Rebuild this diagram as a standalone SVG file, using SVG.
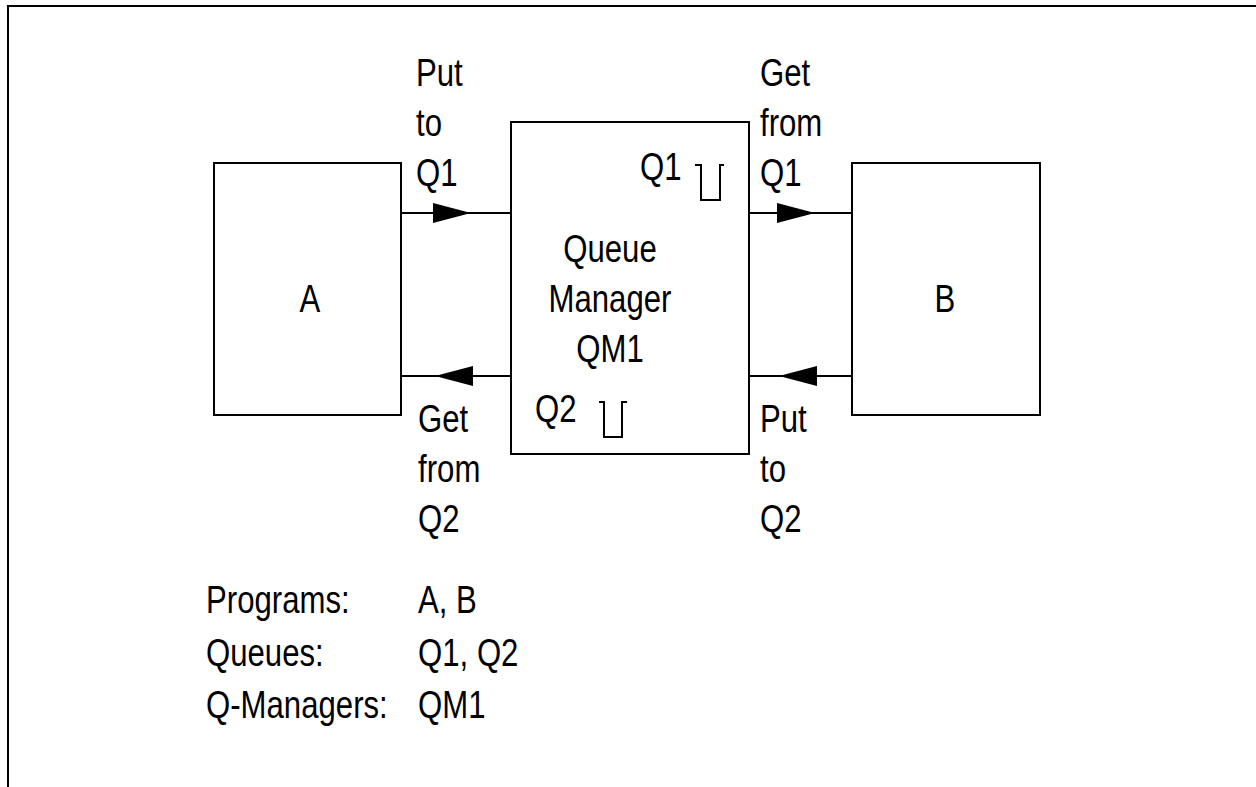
<svg xmlns="http://www.w3.org/2000/svg" width="1256" height="787" viewBox="0 0 1256 787">
<style>
text{font-family:"Liberation Sans",Arial,sans-serif;font-size:38px;fill:#000;transform:scale(0.82,1)}
.c{text-anchor:middle}
.box{fill:#fff;stroke:#000;stroke-width:2}
.ln{stroke:#000;stroke-width:2;fill:none}
</style>
<defs>
<marker id="ah" viewBox="0 0 38 20" refX="38" refY="10" markerWidth="38" markerHeight="20" markerUnits="userSpaceOnUse" orient="auto">
<path d="M0,0 L38,10 L0,20 Z" fill="#000"/>
</marker>
</defs>
<rect width="1256" height="787" fill="#fff"/>
<path class="ln" d="M8,787 V6 H1256" stroke-width="2.5"/>
<g id="A"><rect class="box" x="214" y="163" width="187" height="252"/><text class="c" x="378" y="312">A</text></g>
<g id="QM1"><rect class="box" x="511" y="122" width="238" height="332"/>
<text class="c" x="743.9" y="262">Queue</text><text class="c" x="743.9" y="312">Manager</text><text class="c" x="743.9" y="362">QM1</text>
<g id="Q1"><text x="780.5" y="180">Q1</text><path class="ln" d="M695,165 H701 V200 H720 V165 H724"/></g>
<g id="Q2"><text x="652.4" y="422">Q2</text><path class="ln" d="M599,402 H604 V437 H622 V402 H627"/></g>
</g>
<g id="B"><rect class="box" x="852" y="163" width="188" height="252"/><text class="c" x="1152.4" y="312">B</text></g>
<g id="connectors">
<path class="ln" d="M401,213 H511"/><path class="ln" d="M401,213 H471" marker-end="url(#ah)"/>
<path class="ln" d="M749,213 H852"/><path class="ln" d="M749,213 H815" marker-end="url(#ah)"/>
<path class="ln" d="M511,376 H401"/><path class="ln" d="M511,376 H435" marker-end="url(#ah)"/>
<path class="ln" d="M852,376 H749"/><path class="ln" d="M852,376 H779" marker-end="url(#ah)"/>
</g>
<g id="labels">
<text x="507.3" y="86">Put</text><text x="507.3" y="136">to</text><text x="507.3" y="186">Q1</text>
<text x="926.8" y="86">Get</text><text x="926.8" y="136">from</text><text x="926.8" y="186">Q1</text>
<text x="509.8" y="432">Get</text><text x="509.8" y="482">from</text><text x="509.8" y="532">Q2</text>
<text x="926.8" y="432">Put</text><text x="926.8" y="482">to</text><text x="926.8" y="532">Q2</text>
</g>
<g id="legend">
<text x="251.2" y="613">Programs:</text><text x="509.8" y="613">A, B</text>
<text x="251.2" y="666">Queues:</text><text x="509.8" y="666">Q1, Q2</text>
<text x="251.2" y="718">Q-Managers:</text><text x="509.8" y="718">QM1</text>
</g>
</svg>
